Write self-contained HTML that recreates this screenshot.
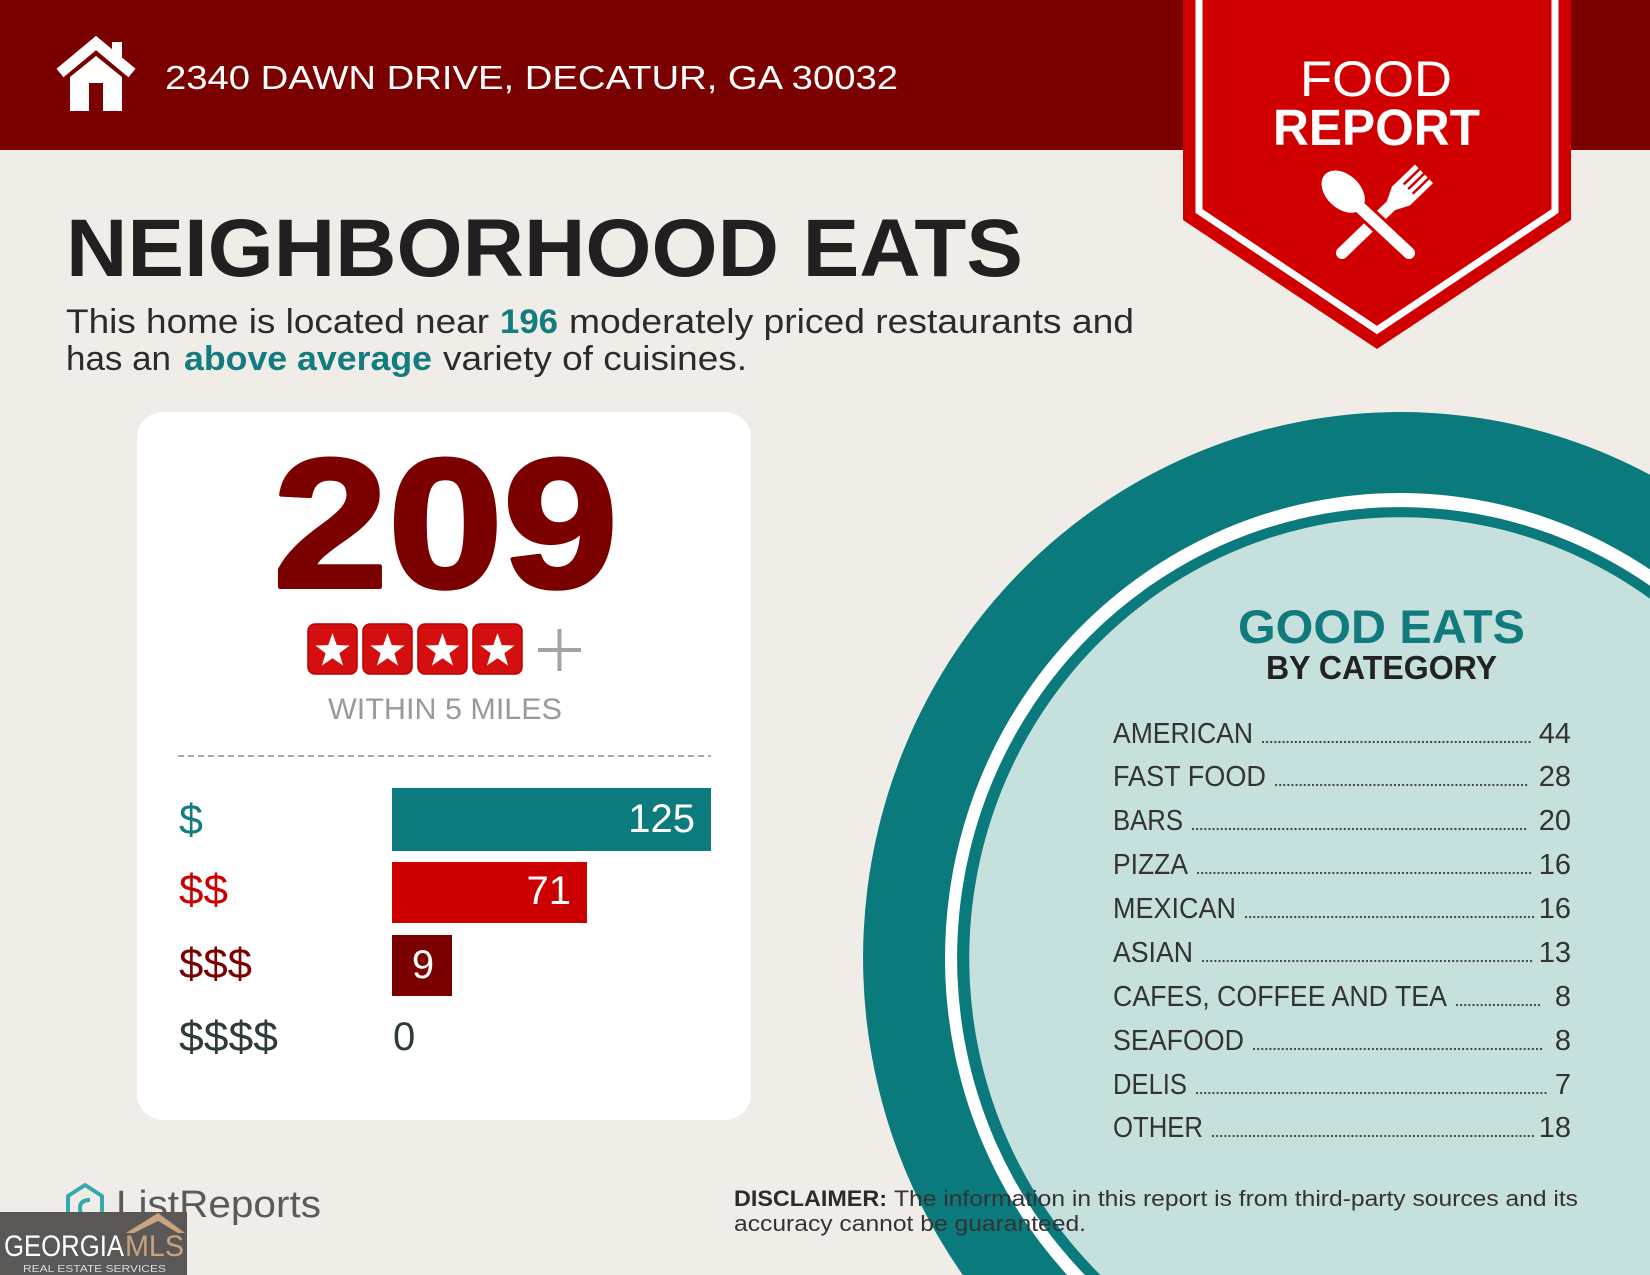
<!DOCTYPE html>
<html><head><meta charset="utf-8"><style>
html,body{margin:0;padding:0;background:#f0ece8;width:1650px;height:1275px;overflow:hidden;}
svg{display:block;}
text{font-family:"Liberation Sans",sans-serif;}
</style></head><body>
<svg width="1650" height="1275" viewBox="0 0 1650 1275" xmlns="http://www.w3.org/2000/svg">
<defs>
<polygon id="star" points="0,-18 4.23,-5.82 17.12,-5.56 6.85,2.22 10.58,14.56 0,7.2 -10.58,14.56 -6.85,2.22 -17.12,-5.56 -4.23,-5.82" fill="#fff"/>
</defs>
<rect x="0" y="0" width="1650" height="1275" fill="#f0ece8"/>
<!-- header -->
<rect x="0" y="0" width="1650" height="150" fill="#7b0000"/>
<!-- house icon -->
<polyline points="60,73 96,43 132,73" fill="none" stroke="#fff" stroke-width="11" stroke-linejoin="miter"/>
<rect x="112" y="42" width="10" height="22" fill="#fff"/>
<polygon points="70,111 70,77 96,56 122,77 122,111" fill="#fff"/>
<rect x="89" y="83" width="14" height="28" fill="#7b0000"/>
<text x="165" y="89" font-size="33" fill="#fff" textLength="733" lengthAdjust="spacingAndGlyphs">2340 DAWN DRIVE, DECATUR, GA 30032</text>
<!-- ribbon -->
<polygon points="1183,0 1571,0 1571,220 1377,349 1183,220" fill="#d10000"/>
<polyline points="1199,0 1199,211 1377,330 1555,211 1555,0" fill="none" stroke="#fff" stroke-width="7" stroke-linejoin="miter"/>
<text x="1300" y="96" font-size="50" fill="#fff" textLength="152" lengthAdjust="spacingAndGlyphs">FOOD</text>
<text x="1273" y="145" font-size="51" font-weight="bold" fill="#fff" textLength="207" lengthAdjust="spacingAndGlyphs">REPORT</text>
<!-- fork -->
<g transform="translate(1342,253) rotate(-44)">
<line x1="0" y1="0" x2="74" y2="0" stroke="#fff" stroke-width="12" stroke-linecap="round"/>
<polygon points="68,-6 82,-13 114,-13 114,13 82,13 68,6" fill="#fff"/>
<line x1="92" y1="-6.5" x2="115" y2="-6.5" stroke="#d10000" stroke-width="2.5"/>
<line x1="92" y1="0" x2="115" y2="0" stroke="#d10000" stroke-width="2.5"/>
<line x1="92" y1="6.5" x2="115" y2="6.5" stroke="#d10000" stroke-width="2.5"/>
</g>
<!-- spoon -->
<g transform="translate(1409,253) rotate(-137)">
<line x1="0" y1="0" x2="66" y2="0" stroke="#d10000" stroke-width="18" stroke-linecap="round"/>
<line x1="0" y1="0" x2="70" y2="0" stroke="#fff" stroke-width="12" stroke-linecap="round"/>
<ellipse cx="90" cy="0" rx="25" ry="17" fill="#fff"/>
</g>
<!-- title -->
<text x="66" y="276" font-size="82" font-weight="bold" fill="#231f20" textLength="957" lengthAdjust="spacingAndGlyphs">NEIGHBORHOOD EATS</text>
<text x="66" y="333" font-size="34" fill="#2b2b2b" textLength="423" lengthAdjust="spacingAndGlyphs">This home is located near</text>
<text x="500" y="333" font-size="34" font-weight="bold" fill="#127c7e" textLength="58" lengthAdjust="spacingAndGlyphs">196</text>
<text x="569" y="333" font-size="34" fill="#2b2b2b" textLength="565" lengthAdjust="spacingAndGlyphs">moderately priced restaurants and</text>
<text x="66" y="370" font-size="34" fill="#2b2b2b" textLength="105" lengthAdjust="spacingAndGlyphs">has an</text>
<text x="184" y="370" font-size="34" font-weight="bold" fill="#127c7e" textLength="248" lengthAdjust="spacingAndGlyphs">above average</text>
<text x="443" y="370" font-size="34" fill="#2b2b2b" textLength="304" lengthAdjust="spacingAndGlyphs">variety of cuisines.</text>
<!-- circle (clipped to canvas) -->
<path d="M962.8,1275 A537,546 0 0 1 1650,474.8 L1650,1275 Z" fill="#0b7a7c"/>
<path d="M1067.1,1275 A455,465 0 0 1 1650,569.5 L1650,1275 Z" fill="#ffffff"/>
<path d="M1084.9,1275 A443,451 0 0 1 1650,585.7 L1650,1275 Z" fill="#0b7a7c"/>
<path d="M1100.4,1275 A431,441 0 0 1 1650,598.8 L1650,1275 Z" fill="#c6e0dd"/>
<text x="1238" y="643" font-size="47" font-weight="bold" fill="#117a7c" textLength="287" lengthAdjust="spacingAndGlyphs">GOOD EATS</text>
<text x="1266" y="679" font-size="33" font-weight="bold" fill="#222" textLength="231" lengthAdjust="spacingAndGlyphs">BY CATEGORY</text>
<g font-size="29" fill="#333">
<text x="1113" y="743" textLength="140" lengthAdjust="spacingAndGlyphs">AMERICAN</text>
<text x="1113" y="786" textLength="153" lengthAdjust="spacingAndGlyphs">FAST FOOD</text>
<text x="1113" y="830" textLength="70" lengthAdjust="spacingAndGlyphs">BARS</text>
<text x="1113" y="874" textLength="75" lengthAdjust="spacingAndGlyphs">PIZZA</text>
<text x="1113" y="918" textLength="123" lengthAdjust="spacingAndGlyphs">MEXICAN</text>
<text x="1113" y="962" textLength="80" lengthAdjust="spacingAndGlyphs">ASIAN</text>
<text x="1113" y="1006" textLength="334" lengthAdjust="spacingAndGlyphs">CAFES, COFFEE AND TEA</text>
<text x="1113" y="1050" textLength="131" lengthAdjust="spacingAndGlyphs">SEAFOOD</text>
<text x="1113" y="1094" textLength="74" lengthAdjust="spacingAndGlyphs">DELIS</text>
<text x="1113" y="1137" textLength="90" lengthAdjust="spacingAndGlyphs">OTHER</text>
</g>
<g font-size="29" fill="#333" text-anchor="end">
<text x="1571" y="743">44</text>
<text x="1571" y="786">28</text>
<text x="1571" y="830">20</text>
<text x="1571" y="874">16</text>
<text x="1571" y="918">16</text>
<text x="1571" y="962">13</text>
<text x="1571" y="1006">8</text>
<text x="1571" y="1050">8</text>
<text x="1571" y="1094">7</text>
<text x="1571" y="1137">18</text>
</g>
<g stroke="#444" stroke-width="2.2" stroke-linecap="round" stroke-dasharray="0.1 4">
<line x1="1263" y1="742" x2="1532" y2="742"/>
<line x1="1276" y1="785" x2="1529" y2="785"/>
<line x1="1193" y1="829" x2="1526" y2="829"/>
<line x1="1198" y1="873" x2="1534" y2="873"/>
<line x1="1246" y1="917" x2="1534" y2="917"/>
<line x1="1203" y1="961" x2="1534" y2="961"/>
<line x1="1457" y1="1005" x2="1543" y2="1005"/>
<line x1="1254" y1="1049" x2="1543" y2="1049"/>
<line x1="1197" y1="1093" x2="1548" y2="1093"/>
<line x1="1213" y1="1136" x2="1534" y2="1136"/>
</g>
<!-- card -->
<rect x="137" y="412" width="614" height="708" rx="26" ry="26" fill="#ffffff"/>
<text x="273" y="587" font-size="184" font-weight="bold" fill="#7b0000" stroke="#7b0000" stroke-width="4" stroke-linejoin="round" textLength="345" lengthAdjust="spacingAndGlyphs">209</text>
<rect x="308" y="624" width="49" height="50" rx="7" fill="#d50f0f" stroke="#b80000" stroke-width="1.5"/>
<rect x="363" y="624" width="49" height="50" rx="7" fill="#d50f0f" stroke="#b80000" stroke-width="1.5"/>
<rect x="418" y="624" width="49" height="50" rx="7" fill="#d50f0f" stroke="#b80000" stroke-width="1.5"/>
<rect x="473" y="624" width="49" height="50" rx="7" fill="#d50f0f" stroke="#b80000" stroke-width="1.5"/>
<use href="#star" x="332.5" y="651"/>
<use href="#star" x="387.5" y="651"/>
<use href="#star" x="442.5" y="651"/>
<use href="#star" x="497.5" y="651"/>
<line x1="538" y1="650" x2="581" y2="650" stroke="#a3a3a3" stroke-width="4"/>
<line x1="559.5" y1="629" x2="559.5" y2="671" stroke="#a3a3a3" stroke-width="4"/>
<text x="328" y="719" font-size="30" fill="#9a9a9a" textLength="234" lengthAdjust="spacingAndGlyphs">WITHIN 5 MILES</text>
<line x1="178" y1="756" x2="711" y2="756" stroke="#aaaaaa" stroke-width="2" stroke-dasharray="6 4"/>
<rect x="392" y="788" width="319" height="63" fill="#0c7b7d"/>
<text x="695" y="832" font-size="40" fill="#fff" text-anchor="end">125</text>
<rect x="392" y="862" width="195" height="61" fill="#cc0000"/>
<text x="571" y="904" font-size="40" fill="#fff" text-anchor="end">71</text>
<rect x="392" y="935" width="60" height="61" fill="#7b0000"/>
<text x="423" y="978" font-size="40" fill="#fff" text-anchor="middle">9</text>
<text x="393" y="1050" font-size="40" fill="#2f3b3b">0</text>
<text x="179" y="834" font-size="43" fill="#127c7e">$</text>
<text x="179" y="904" font-size="43" fill="#cc0000" textLength="49" lengthAdjust="spacingAndGlyphs">$$</text>
<text x="179" y="978" font-size="43" fill="#7b0000" textLength="73" lengthAdjust="spacingAndGlyphs">$$$</text>
<text x="179" y="1051" font-size="43" fill="#2f3b3b" textLength="99" lengthAdjust="spacingAndGlyphs">$$$$</text>
<!-- disclaimer -->
<text x="734" y="1206" font-size="22" font-weight="bold" fill="#2b2b2b" textLength="153" lengthAdjust="spacingAndGlyphs">DISCLAIMER:</text>
<text x="894" y="1206" font-size="22" fill="#333" textLength="684" lengthAdjust="spacingAndGlyphs">The information in this report is from third-party sources and its</text>
<text x="734" y="1231" font-size="22" fill="#333" textLength="352" lengthAdjust="spacingAndGlyphs">accuracy cannot be guaranteed.</text>
<!-- ListReports logo -->
<path d="M68,1222 L68,1196 L85,1185 L102,1196 L102,1210 Q102,1218 92,1218 Q80,1218 80,1208 Q80,1200 90,1200" fill="none" stroke="#36a9ac" stroke-width="4" stroke-linejoin="round"/>
<text x="116" y="1217" font-size="38" fill="#5a5a5a" textLength="205" lengthAdjust="spacingAndGlyphs">ListReports</text>
<!-- Georgia MLS -->
<rect x="0" y="1212" width="187" height="63" fill="#5a5857"/>
<polygon points="126,1233 158,1213 185,1233 178,1233 158,1221 134,1233" fill="#c9a27e"/>
<text x="4" y="1256" font-size="30" fill="#fff" textLength="120" lengthAdjust="spacingAndGlyphs">GEORGIA</text>
<text x="125" y="1256" font-size="30" fill="#c9a27e" textLength="59" lengthAdjust="spacingAndGlyphs">MLS</text>
<text x="23" y="1272" font-size="10" fill="#dddddd" textLength="143" lengthAdjust="spacingAndGlyphs">REAL ESTATE SERVICES</text>
</svg>
</body></html>
